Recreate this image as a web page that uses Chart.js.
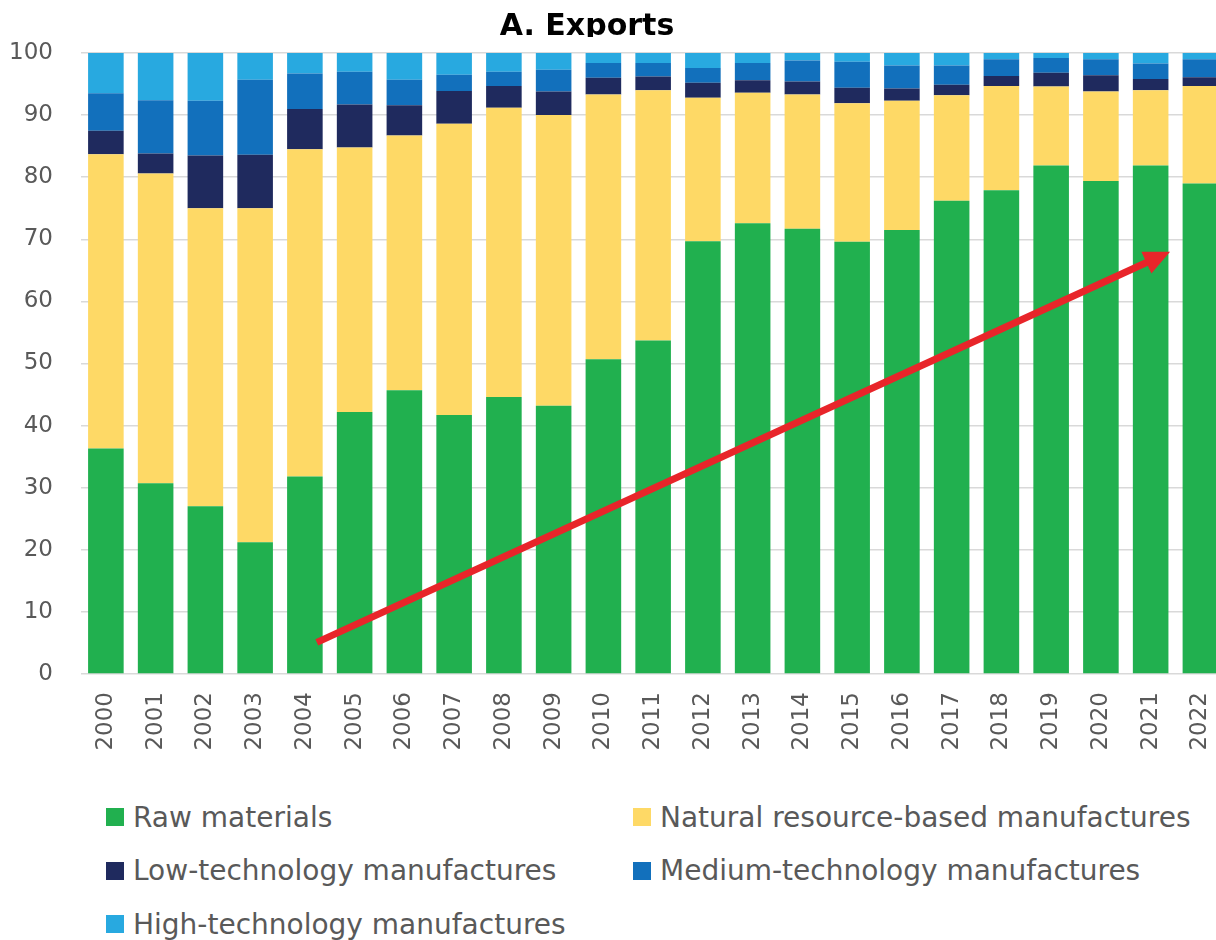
<!DOCTYPE html>
<html>
<head>
<meta charset="utf-8">
<script src="https://cdn.jsdelivr.net/npm/chart.js@4.4.1/dist/chart.umd.min.js"></script>
<style>
  html, body { margin: 0; padding: 0; background: #fff; }
  body { width: 1216px; height: 940px; overflow: hidden; position: relative; font-family: "DejaVu Sans", sans-serif; }
  #wrap { position: absolute; left: 0; top: 0; width: 1246px; height: 770px; }
  #title { position: absolute; left: 0; top: 0; width: 1174px; height: 37px; overflow: hidden; text-align: center; }
  #title span { display: block; padding-top: 10px; font: bold 30px/30px "DejaVu Sans", sans-serif; color: #000; }
  .lg { position: absolute; height: 40px; display: flex; align-items: center; font-size: 28px; color: #595959; white-space: nowrap; }
  .lg i { display: inline-block; width: 18px; height: 18px; margin-right: 9px; }
</style>
</head>
<body>
<div id="wrap"><canvas id="c"></canvas></div>
<div id="title"><span>A. Exports</span></div>
<div id="legend"></div>
<script>
const years = ["2000","2001","2002","2003","2004","2005","2006","2007","2008","2009","2010","2011","2012","2013","2014","2015","2016","2017","2018","2019","2020","2021","2022"];
const rawMaterials = [36.3,30.7,27.0,21.2,31.8,42.2,45.7,41.7,44.6,43.2,50.7,53.7,69.7,72.6,71.7,69.6,71.5,76.2,77.9,81.9,79.4,81.9,79.0];
const naturalResource = [47.4,49.9,48.0,53.8,52.7,42.6,41.0,46.9,46.6,46.8,42.6,40.3,23.1,21.0,21.6,22.3,20.8,17.0,16.8,12.7,14.4,12.1,15.7];
const lowTech = [3.8,3.2,8.5,8.6,6.5,6.9,4.9,5.3,3.5,3.8,2.7,2.2,2.4,2.0,2.1,2.5,2.0,1.7,1.6,2.2,2.6,1.8,1.4];
const mediumTech = [6.0,8.6,8.8,12.1,5.7,5.3,4.1,2.6,2.3,3.5,2.4,2.2,2.4,2.8,3.4,4.2,3.7,3.1,2.7,2.4,2.6,2.5,2.9];
const highTech = [6.5,7.6,7.7,4.3,3.3,3.0,4.3,3.5,3.0,2.7,1.6,1.6,2.4,1.6,1.2,1.4,2.0,2.0,1.0,0.8,1.0,1.7,1.0];
const yTicks = [0,10,20,30,40,50,60,70,80,90,100];
// trend arrow: [category index, value] start and end
const arrowStart = [4.24, 5.1];
const arrowEnd = [21.39, 68.0];

const seriesNames = ["Raw materials","Natural resource-based manufactures","Low-technology manufactures","Medium-technology manufactures","High-technology manufactures"];
const seriesColors = ["#21B04F","#FED966","#1F2A5E","#1270BC","#28A9E0"];
const seriesData = [rawMaterials, naturalResource, lowTech, mediumTech, highTech];

const arrowPlugin = {
  id: 'trendArrow',
  afterDatasetsDraw(chart) {
    const {ctx, scales: {x, y}} = chart;
    const x0 = x.getPixelForValue(arrowStart[0]), y0 = y.getPixelForValue(arrowStart[1]);
    const x1 = x.getPixelForValue(arrowEnd[0]), y1 = y.getPixelForValue(arrowEnd[1]);
    const ang = Math.atan2(y1 - y0, x1 - x0);
    const headLen = 26, headW = 12;
    const bx = x1 - headLen * Math.cos(ang), by = y1 - headLen * Math.sin(ang);
    ctx.save();
    ctx.strokeStyle = '#E8252A';
    ctx.fillStyle = '#E8252A';
    ctx.lineWidth = 7;
    ctx.lineCap = 'butt';
    ctx.beginPath();
    ctx.moveTo(x0, y0);
    ctx.lineTo(bx + 2 * Math.cos(ang), by + 2 * Math.sin(ang));
    ctx.stroke();
    ctx.beginPath();
    ctx.moveTo(x1, y1);
    ctx.lineTo(bx + headW * Math.sin(ang), by - headW * Math.cos(ang));
    ctx.lineTo(bx - headW * Math.sin(ang), by + headW * Math.cos(ang));
    ctx.closePath();
    ctx.fill();
    ctx.restore();
  }
};

const chart = new Chart(document.getElementById('c'), {
  type: 'bar',
  data: {
    labels: years,
    datasets: seriesData.map((d, i) => ({
      label: seriesNames[i],
      data: d,
      backgroundColor: seriesColors[i],
      borderWidth: 0,
      barPercentage: 0.715,
      categoryPercentage: 1.0
    }))
  },
  options: {
    responsive: true,
    maintainAspectRatio: false,
    animation: false,
    layout: { padding: { top: 53, left: 0, right: 0, bottom: 0 } },
    plugins: { legend: { display: false }, title: { display: false }, tooltip: { enabled: false } },
    scales: {
      x: {
        stacked: true,
        grid: { display: false, drawTicks: false },
        border: { display: false },
        ticks: {
          autoSkip: false, minRotation: 90, maxRotation: 90, padding: 18,
          color: '#595959', font: { family: 'DejaVu Sans', size: 23 }
        },
        afterFit(s) { s.height = 96; }
      },
      y: {
        stacked: true,
        min: 0, max: 100,
        afterBuildTicks(s) { s.ticks = yTicks.map(v => ({ value: v })); },
        grid: { color: '#D9D9D9', lineWidth: 1.5, drawTicks: false },
        border: { display: false },
        ticks: { padding: 28, color: '#595959', font: { family: 'DejaVu Sans', size: 23 } },
        afterFit(s) { s.width = 81; }
      }
    }
  },
  plugins: [arrowPlugin]
});

// legend (two columns) built from the chart's datasets
const lg = document.getElementById('legend');
const colX = [106, 633];
chart.data.datasets.forEach((ds, i) => {
  const d = document.createElement('div');
  d.className = 'lg';
  d.style.left = colX[i % 2] + 'px';
  d.style.top = (797 + Math.floor(i / 2) * 53.5) + 'px';
  const b = document.createElement('i');
  b.style.background = ds.backgroundColor;
  d.appendChild(b);
  d.appendChild(document.createTextNode(ds.label));
  lg.appendChild(d);
});
</script>
</body>
</html>
